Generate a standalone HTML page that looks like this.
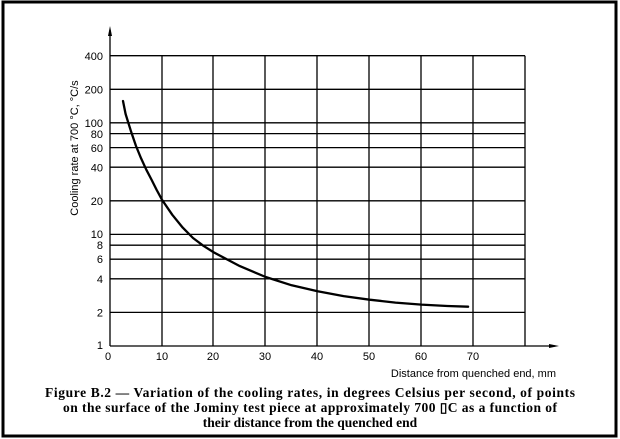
<!DOCTYPE html><html><head><style>body{margin:0;background:#fff}</style></head><body>
<svg width="620" height="439" xmlns="http://www.w3.org/2000/svg" style="display:block">
<rect x="3" y="2" width="613" height="434" fill="#fff" stroke="#000" stroke-width="3"/>
<g stroke="#000" stroke-width="1.3">
<line x1="110" y1="55.7" x2="525" y2="55.7"/>
<line x1="110" y1="89.3" x2="525" y2="89.3"/>
<line x1="110" y1="122.8" x2="525" y2="122.8"/>
<line x1="110" y1="133.6" x2="525" y2="133.6"/>
<line x1="110" y1="147.6" x2="525" y2="147.6"/>
<line x1="110" y1="167.2" x2="525" y2="167.2"/>
<line x1="110" y1="200.8" x2="525" y2="200.8"/>
<line x1="110" y1="234.4" x2="525" y2="234.4"/>
<line x1="110" y1="245.2" x2="525" y2="245.2"/>
<line x1="110" y1="259.2" x2="525" y2="259.2"/>
<line x1="110" y1="278.8" x2="525" y2="278.8"/>
<line x1="110" y1="312.4" x2="525" y2="312.4"/>
<line x1="162" y1="55.7" x2="162" y2="346"/>
<line x1="213" y1="55.7" x2="213" y2="346"/>
<line x1="265" y1="55.7" x2="265" y2="346"/>
<line x1="317" y1="55.7" x2="317" y2="346"/>
<line x1="369" y1="55.7" x2="369" y2="346"/>
<line x1="421" y1="55.7" x2="421" y2="346"/>
<line x1="473" y1="55.7" x2="473" y2="346"/>
<line x1="525" y1="55.7" x2="525" y2="346"/>
<line x1="110" y1="30" x2="110" y2="346"/>
<line x1="110" y1="346" x2="555" y2="346"/>
</g>
<polygon points="110,26 108,36 112,36" fill="#000"/>
<polygon points="559,346 549,344 549,348" fill="#000"/>
<polyline points="123,101 125.6,114 130.8,130.7 136,146 141.1,158.4 146.3,169.7 151.5,179.6 156.7,190 161.9,199.6 172.3,214.8 182.7,227.6 193,238 203.4,245.8 213.8,252.4 239.8,266.1 265.7,277 291.7,285.3 317.6,291.2 343.6,296.1 369.5,299.7 395.5,302.6 421.4,304.6 447.4,306 468.1,306.7" fill="none" stroke="#000" stroke-width="2.3" stroke-linejoin="round" stroke-linecap="round"/>
<g font-family="Liberation Sans, sans-serif" font-size="11" text-anchor="end">
<text x="103" y="60">400</text><text x="103" y="93.5">200</text><text x="103" y="127">100</text>
<text x="103" y="138">80</text><text x="103" y="152">60</text><text x="103" y="171.5">40</text>
<text x="103" y="205">20</text><text x="103" y="238">10</text><text x="103" y="249">8</text>
<text x="103" y="263">6</text><text x="103" y="283">4</text><text x="103" y="316.5">2</text><text x="103" y="349">1</text>
</g>
<g font-family="Liberation Sans, sans-serif" font-size="11" text-anchor="middle">
<text x="108" y="360">0</text><text x="162" y="360">10</text><text x="213" y="360">20</text><text x="265" y="360">30</text>
<text x="317" y="360">40</text><text x="369" y="360">50</text><text x="421" y="360">60</text><text x="473" y="360">70</text>
</g>
<text x="556" y="377" font-family="Liberation Sans, sans-serif" font-size="11" text-anchor="end">Distance from quenched end, mm</text>
<text transform="translate(78,148) rotate(-90)" font-family="Liberation Sans, sans-serif" font-size="11" text-anchor="middle">Cooling rate at 700 °C, °C/s</text>
<g font-family="Liberation Serif, serif" font-size="13.5" font-weight="bold">
<text x="45" y="397" textLength="530" lengthAdjust="spacing">Figure B.2 — Variation of the cooling rates, in degrees Celsius per second, of points</text>
<text x="63" y="412" textLength="494" lengthAdjust="spacing">on the surface of the Jominy test piece at approximately 700 ▯C as a function of</text>
<text x="310" y="427" text-anchor="middle">their distance from the quenched end</text>
</g>
</svg>
</body></html>
